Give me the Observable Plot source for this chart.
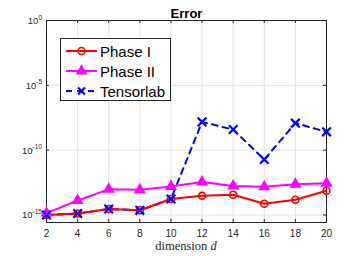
<!DOCTYPE html>
<html><head><meta charset="utf-8">
<script src="https://cdn.jsdelivr.net/npm/d3@7"></script>
<script src="https://cdn.jsdelivr.net/npm/@observablehq/plot@0.6"></script>
<style>
body{margin:0;background:#fff;}
#wrap{position:relative;width:360px;height:256px;overflow:hidden;}
#legend{position:absolute;left:60px;top:38px;width:111px;height:63px;border:1px solid #262626;background:#fff;box-sizing:border-box;}
</style></head>
<body><div id="wrap"><div id="legend"></div></div>
<script>
const dims = [2,4,6,8,10,12,14,16,18,20];
const phaseI = [1.0e-15,1.3e-15,2.9e-15,2.3e-15,1.7e-14,3.0e-14,3.6e-14,7.4e-15,1.5e-14,7.4e-14];
const phaseII = [1.4e-15,1.3e-14,9.5e-14,8.9e-14,1.6e-13,3.5e-13,1.7e-13,1.5e-13,2.3e-13,2.8e-13];
const tensorlab = [1.0e-15,1.3e-15,2.9e-15,2.3e-15,1.7e-14,1.5e-8,3.9e-9,1.9e-11,1.2e-8,2.6e-9];
const yTicks = [1,1e-5,1e-10,1e-15];
const yTickExponents = ["0","-5","-10","-15"];
const seriesNames = ["Phase I","Phase II","Tensorlab"];
const colors = ["#ff0000","#ff00ff","#0000ff"];

const rows = (vals,name)=>dims.map((d,i)=>({d,v:vals[i],name}));
const dI = rows(phaseI,"Phase I"), dII = rows(phaseII,"Phase II"), dT = rows(tensorlab,"Tensorlab");

const W=360,H=256,mT=20,mB=34,mL=46,mR=34;
const plotH = H-mT-mB;
const axisColor="#262626";
const font="'Liberation Sans', Arial, sans-serif";

const chart = Plot.plot({
  width:W,height:H,marginTop:mT,marginBottom:mB,marginLeft:mL,marginRight:mR,
  style:{fontFamily:font,fontSize:"10px",color:axisColor,background:"#fff"},
  x:{domain:[2,20]},
  y:{type:"log",domain:[Math.pow(10,-15.58),1],axis:null},
  marks:[
    Plot.gridX(dims,{stroke:"#e3e3e3",strokeOpacity:1}),
    Plot.gridY(yTicks,{stroke:"#e3e3e3",strokeOpacity:1}),
    Plot.axisX(dims,{tickSize:0,tickPadding:7,label:null,fill:axisColor,fontSize:10}),
    Plot.tickX(dims,{x:d=>d,stroke:axisColor,insetTop:plotH-3}),
    Plot.tickX(dims,{x:d=>d,stroke:axisColor,insetBottom:plotH-3}),
    Plot.tickY(yTicks,{y:d=>d,stroke:axisColor,insetRight:W-mL-mR-3}),
    Plot.tickY(yTicks,{y:d=>d,stroke:axisColor,insetLeft:W-mL-mR-3}),
    Plot.frame({stroke:axisColor}),
    Plot.line(dT,{x:"d",y:"v",stroke:colors[2],strokeWidth:2,strokeDasharray:"6,5"}),
    Plot.line(dI,{x:"d",y:"v",stroke:colors[0],strokeWidth:2}),
    Plot.dot(dI,{x:"d",y:"v",stroke:colors[0],strokeWidth:1.6,r:3.5,fill:"none"}),
    Plot.line(dII,{x:"d",y:"v",stroke:colors[1],strokeWidth:2}),
    Plot.dot(dII,{x:"d",y:"v",symbol:"triangle",fill:colors[1],r:4.5}),
    Plot.dot(dT,{x:"d",y:"v",symbol:"times",stroke:colors[2],strokeWidth:2.2,r:4}),
    Plot.text(["Error"],{frameAnchor:"top",dy:-12,fontWeight:"bold",fontSize:13,fill:"#000",fontFamily:font})
  ]
});
document.getElementById("wrap").prepend(chart);

const svg = d3.select(chart);
const yScale = chart.scale("y");
// y tick labels 10^k with real superscripts
yTicks.forEach((v,i)=>{
  const t = svg.append("text").attr("x",mL-4).attr("y",yScale.apply(v)+4)
    .attr("text-anchor","end").attr("font-family",font).attr("font-size",9.5).attr("fill",axisColor);
  t.append("tspan").text("10");
  t.append("tspan").attr("dy",-4.5).attr("font-size",6.5).text(yTickExponents[i]);
});

// x label with italic d
const xl = svg.append("text").attr("x",mL+(W-mL-mR)/2).attr("y",H-6)
  .attr("text-anchor","middle").attr("font-family","'Liberation Serif', 'Times New Roman', serif")
  .attr("font-size",12.5).attr("fill","#262626");
xl.append("tspan").text("dimension ");
xl.append("tspan").attr("font-style","italic").text("d");

// legend
const leg = d3.select("#legend").append("svg").attr("width",109).attr("height",61)
  .style("position","absolute").style("left","0").style("top","0");
seriesNames.forEach((n,i)=>{
  const y=12+i*20;
  const g=leg.append("g");
  g.append("line").attr("x1",5).attr("x2",36).attr("y1",y).attr("y2",y)
    .attr("stroke",colors[i]).attr("stroke-width",2)
    .attr("stroke-dasharray",i===2?"6,5":null);
  if(i===0) g.append("circle").attr("cx",20.5).attr("cy",y).attr("r",3.5).attr("fill","none").attr("stroke",colors[0]).attr("stroke-width",1.6);
  if(i===1) g.append("path").attr("d",d3.symbol(d3.symbolTriangle,60)()).attr("transform",`translate(20.5,${y})`).attr("fill",colors[1]);
  if(i===2) g.append("path").attr("d","M-3.5,-3.5L3.5,3.5M-3.5,3.5L3.5,-3.5").attr("transform",`translate(20.5,${y})`).attr("stroke",colors[2]).attr("stroke-width",2.2);
  g.append("text").attr("x",39).attr("y",y+5.5).attr("font-family",font).attr("font-size",15).attr("fill","#000").text(n);
});
</script></body></html>
